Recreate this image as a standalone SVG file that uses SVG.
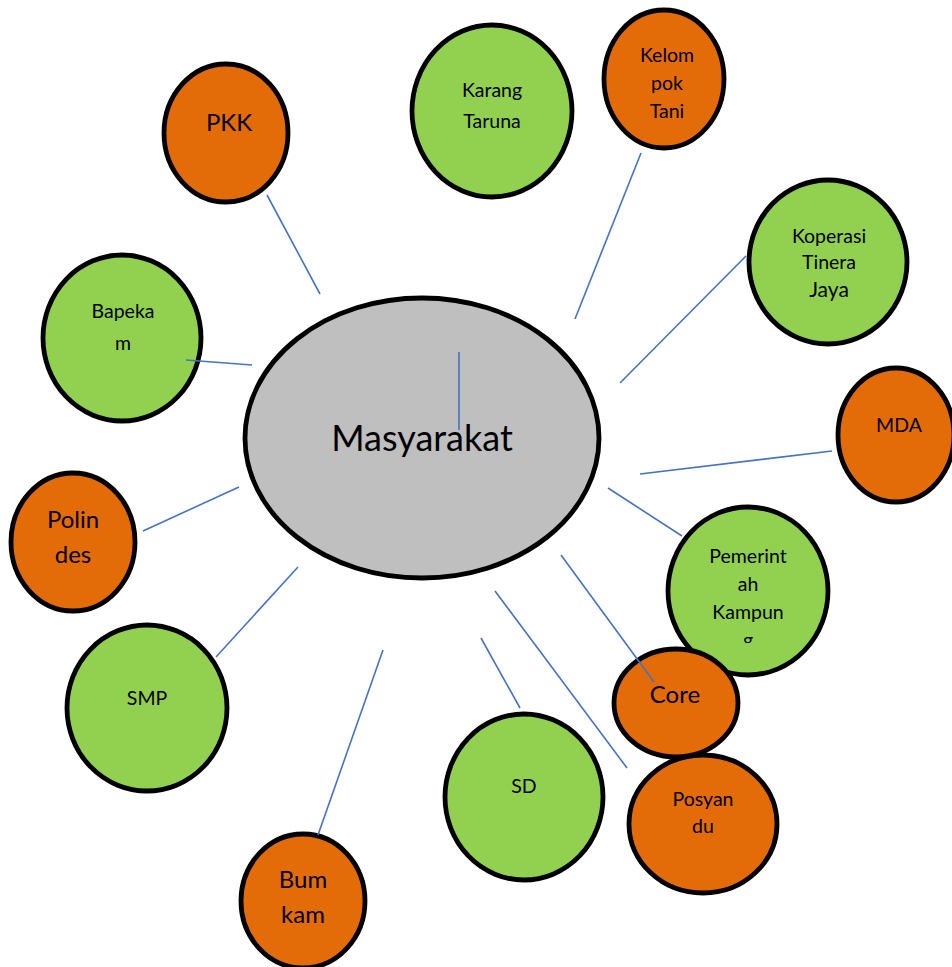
<svg xmlns="http://www.w3.org/2000/svg" width="952" height="967" viewBox="0 0 952 967">
<style>
.g{fill:#92D050;stroke:#000;stroke-width:4.8}
.o{fill:#E36C09;stroke:#000;stroke-width:4.8}
.c{fill:#BFBFBF;stroke:#000;stroke-width:4.8}
text{font-family:Lato,"Open Sans",sans-serif;fill:#000;text-anchor:middle}
.s{font-size:19.5px}
.b{font-size:24px}
.m{font-size:36px}
.ln line{stroke:#4472C4;stroke-width:1.6}
</style>
<defs>
<clipPath id="cp"><rect x="600" y="500" width="300" height="143"/></clipPath>
</defs>
<rect width="952" height="967" fill="#fff"/>
<g id="masyarakat"><ellipse class="c" cx="422" cy="438" rx="177" ry="140"/><text class="m" x="422" y="451">Masyarakat</text></g>
<g id="pkk"><ellipse class="o" cx="226" cy="133" rx="62" ry="69"/><text class="b" x="229" y="131">PKK</text></g>
<g id="karang-taruna"><ellipse class="g" cx="492" cy="111" rx="80" ry="86"/><text class="s" x="492" y="97">Karang</text><text class="s" x="492" y="128">Taruna</text></g>
<g id="kelompok-tani"><ellipse class="o" cx="664" cy="79" rx="60" ry="69"/><text class="s" x="667" y="62">Kelom</text><text class="s" x="667" y="90">pok</text><text class="s" x="667" y="118">Tani</text></g>
<g id="koperasi"><ellipse class="g" cx="828" cy="262" rx="79" ry="82"/><text class="s" x="829" y="243">Koperasi</text><text class="s" x="829" y="269">Tinera</text><text class="s" x="829" y="297" style="font-size:21px">Jaya</text></g>
<g id="mda"><ellipse class="o" cx="896" cy="435" rx="58" ry="67"/><text class="s" x="899" y="432">MDA</text></g>
<g id="pemerintah-kampung"><ellipse class="g" cx="748" cy="591" rx="80" ry="84"/><text class="s" x="748" y="563">Pemerint</text><text class="s" x="748" y="591">ah</text><text class="s" x="748" y="619">Kampun</text><text class="s" x="748" y="647" clip-path="url(#cp)">g</text></g>
<g id="core"><ellipse class="o" cx="676" cy="703" rx="62" ry="54"/><text class="b" x="675" y="703">Core</text></g>
<g id="posyandu"><ellipse class="o" cx="703" cy="824" rx="74" ry="69"/><text class="s" x="703" y="806">Posyan</text><text class="s" x="703" y="833">du</text></g>
<g id="sd"><ellipse class="g" cx="524" cy="797" rx="79" ry="83"/><text class="s" x="524" y="793">SD</text></g>
<g id="bumkam"><ellipse class="o" cx="303" cy="901" rx="62" ry="67"/><text class="b" x="303" y="888">Bum</text><text class="b" x="303" y="923">kam</text></g>
<g id="smp"><ellipse class="g" cx="147" cy="708" rx="80" ry="83"/><text class="s" x="147" y="705">SMP</text></g>
<g id="polindes"><ellipse class="o" cx="73" cy="542" rx="62" ry="69"/><text class="b" x="73" y="528">Polin</text><text class="b" x="73" y="563">des</text></g>
<g id="bapekam"><ellipse class="g" cx="122" cy="338" rx="79" ry="83"/><text class="s" x="123" y="318">Bapeka</text><text class="s" x="123" y="350">m</text></g>
<g id="connectors" class="ln">
<line x1="459" y1="352" x2="459" y2="430"/>
<line x1="267" y1="195" x2="320" y2="294"/>
<line x1="641" y1="153" x2="575" y2="319"/>
<line x1="746" y1="256" x2="620" y2="383"/>
<line x1="832" y1="451" x2="640" y2="474"/>
<line x1="608" y1="488" x2="682" y2="536"/>
<line x1="561" y1="555" x2="654" y2="682"/>
<line x1="495" y1="591" x2="627" y2="768"/>
<line x1="481" y1="638" x2="520" y2="708"/>
<line x1="383" y1="650" x2="318" y2="835"/>
<line x1="298" y1="567" x2="216" y2="657"/>
<line x1="239" y1="487" x2="143" y2="531"/>
<line x1="186" y1="360" x2="252" y2="365"/>
</g>
</svg>
